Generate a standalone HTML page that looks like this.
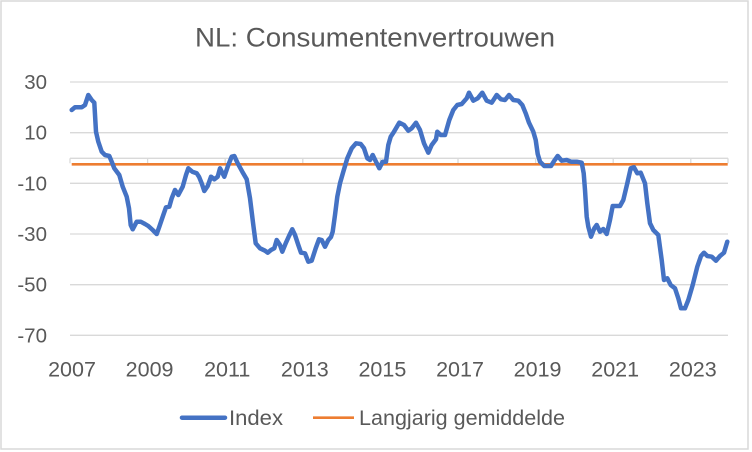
<!DOCTYPE html>
<html>
<head>
<meta charset="utf-8">
<style>
  html, body { margin: 0; padding: 0; background: #ffffff; }
  body { width: 752px; height: 452px; overflow: hidden; }
  svg { display: block; }
  text { font-family: "Liberation Sans", Arial, sans-serif; fill: #595959; }
</style>
</head>
<body>
<svg width="752" height="452" viewBox="0 0 752 452" xmlns="http://www.w3.org/2000/svg">
  <rect x="0" y="0" width="752" height="452" fill="#ffffff"/>
  <rect x="1" y="1" width="747" height="448" fill="none" stroke="#d9d9d9" stroke-width="1.5"/>

  <!-- Title -->
  <text x="375" y="46.7" font-size="27" text-anchor="middle" textLength="360" lengthAdjust="spacingAndGlyphs">NL: Consumentenvertrouwen</text>

  <!-- Gridlines -->
  <g stroke="#d9d9d9" stroke-width="1.3">
    <line x1="70" y1="82" x2="728" y2="82"/>
    <line x1="70" y1="132.7" x2="728" y2="132.7"/>
    <line x1="70" y1="183.3" x2="728" y2="183.3"/>
    <line x1="70" y1="234" x2="728" y2="234"/>
    <line x1="70" y1="284.7" x2="728" y2="284.7"/>
    <line x1="70" y1="335.3" x2="728" y2="335.3"/>
    <!-- x axis at 0 -->
    <line x1="70" y1="158.3" x2="728" y2="158.3"/>
    <!-- ticks -->
    <line x1="70" y1="158.3" x2="70" y2="163.3"/>
    <line x1="147.6" y1="158.3" x2="147.6" y2="163.3"/>
    <line x1="225.2" y1="158.3" x2="225.2" y2="163.3"/>
    <line x1="302.8" y1="158.3" x2="302.8" y2="163.3"/>
    <line x1="380.4" y1="158.3" x2="380.4" y2="163.3"/>
    <line x1="458" y1="158.3" x2="458" y2="163.3"/>
    <line x1="535.6" y1="158.3" x2="535.6" y2="163.3"/>
    <line x1="613.2" y1="158.3" x2="613.2" y2="163.3"/>
    <line x1="690.8" y1="158.3" x2="690.8" y2="163.3"/>
    <line x1="728" y1="158.3" x2="728" y2="163.3"/>
  </g>

  <!-- Y labels -->
  <g font-size="20.5" text-anchor="end">
    <text x="47" y="89">30</text>
    <text x="47" y="139.7">10</text>
    <text x="47" y="190.3">-10</text>
    <text x="47" y="241">-30</text>
    <text x="47" y="291.7">-50</text>
    <text x="47" y="342.3">-70</text>
  </g>

  <!-- X labels -->
  <g font-size="21.5" text-anchor="middle">
    <text x="72" y="376.5">2007</text>
    <text x="149.6" y="376.5">2009</text>
    <text x="227.2" y="376.5">2011</text>
    <text x="304.8" y="376.5">2013</text>
    <text x="382.4" y="376.5">2015</text>
    <text x="460" y="376.5">2017</text>
    <text x="537.6" y="376.5">2019</text>
    <text x="615.2" y="376.5">2021</text>
    <text x="692.8" y="376.5">2023</text>
  </g>

  <!-- Orange average line -->
  <line x1="71.7" y1="164.3" x2="727.7" y2="164.3" stroke="#ed7d31" stroke-width="2.7"/>

  <!-- Blue index line -->
  <polyline fill="none" stroke="#4472c4" stroke-width="4.5" stroke-linejoin="round" stroke-linecap="round"
    points="71.7,110 75,107.3 81.7,107.3 85,105 88.3,95 91.7,100 94.3,102.7 96,131.7 98.3,141.7 101.7,151.7 105,155 109.3,156 111.7,161.7 114.3,168.3 119.3,175 122.7,186.7 126.7,196.7 129,208.3 130.7,225 132.7,229.3 136.7,221.7 140.7,221.7 145,224 148.3,226 152.7,230 156.7,234 159.3,226.7 163.3,215 166,207.3 169.3,206.7 171.7,198.3 175,190 178.3,195 182.7,186.7 186,175 188.3,168.3 192.3,171.7 196.7,173.3 199,176.7 201.7,183.3 204.3,191 207.7,186 211,176.7 214.3,179.3 217.7,176.7 220,168.3 224.3,176.7 228.3,165 231.7,156.7 234.3,156 237.7,163.3 242.3,171.7 246.7,179.3 250,198.3 253.3,225 255.7,243.3 260,248.3 265,250.7 267.7,252.7 271,250 274.3,248.3 276.7,240 280,245 282.3,251.7 285.7,243.3 289,236 292.3,229.3 295,235 298.3,245 301,252.7 305,253.3 308.3,261.7 311.7,260.7 315.7,248.3 319,239.3 321.7,240 325,246.7 328.3,240 331,237 332.7,231.7 335,215 337.3,196.7 340,183.3 343.3,171.7 347.3,158.3 351.7,148.3 356,143.3 360.7,144 364,148.3 367.3,158.3 370,160 372.7,155 376,161.7 379.3,168.3 382.7,161.7 386,161.7 388.3,145 390.7,136.7 394,131.7 399.3,122.7 404,125 408.3,130.7 411.7,128.3 416,122.7 420,130 424,143.3 428.3,152.7 431.7,145 436,139.3 437.3,131.7 440.7,135 445,135 449.3,120 453.3,110 457.3,105 461.7,104 466.7,98.3 469,92.7 473.3,100.7 477.7,98.3 482.3,92.7 486.7,100.7 491.7,102.7 496.7,95 501,99.3 505,100 509,95 513.3,100 518.3,100.7 522.3,105 525.7,113.3 529,122.7 533.3,131.7 535.7,140 537.7,154 540,161.7 544.3,166 551,166 554.3,160.7 557.7,156 561.7,160.7 566.7,160 571,161.7 576.7,161.7 581.7,162.7 583.7,173.3 585,190 586.7,216.7 588.3,226.7 591,236.7 594.3,228.3 596.7,225 600,231.7 603.3,229 606.7,234 610,220 612.7,206 620,206 623.3,200 627.3,183.3 630.7,168.3 634,167.3 637.3,173.3 640.7,172.7 645,183.3 647.3,203.3 650,223.3 653.3,230 658.3,235 661.7,260 664,280 667.3,278.3 670.7,285 675,288.3 678.3,298.3 681,308.3 685,308.3 688.3,300 692.7,285 697.3,266.7 701,256 704,252.7 707.3,256 711.7,256.7 716,260.7 720,256 724,252.7 727.3,241.7"/>

  <!-- Legend -->
  <line x1="182" y1="417.7" x2="225" y2="417.7" stroke="#4472c4" stroke-width="4.5" stroke-linecap="round"/>
  <text x="229" y="425" font-size="21" textLength="54" lengthAdjust="spacingAndGlyphs">Index</text>
  <line x1="313" y1="417.7" x2="354" y2="417.7" stroke="#ed7d31" stroke-width="2.7"/>
  <text x="359" y="425" font-size="21" textLength="206" lengthAdjust="spacingAndGlyphs">Langjarig gemiddelde</text>
</svg>
</body>
</html>
